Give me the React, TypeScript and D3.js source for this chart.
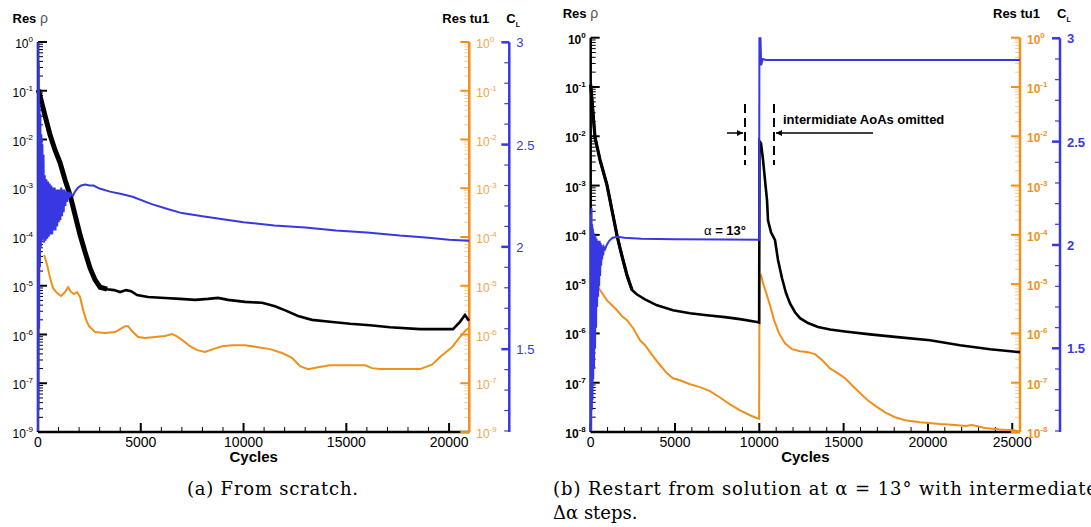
import React from 'react';
import * as d3 from 'd3';

const FONT = "'Liberation Sans', Arial, Helvetica, sans-serif";
const SERIF = "'DejaVu Serif', 'Liberation Serif', serif";
const BLUE = '#3838e2';
const ORANGE = '#ef901c';
const CL_MIN = 1.095;

// ---- Panel (a): from scratch. [cycles, log10(residual)] and [cycles, CL]
const aRho: [number, number][] = [
  [0, -0.98], [53, -1.03], [297, -1.44], [589, -1.91], [832, -2.22], [1075, -2.48], [1318, -2.83],
  [1561, -3.14], [1805, -3.55], [2048, -3.96], [2291, -4.31], [2534, -4.64], [2777, -4.88],
  [3021, -5.03], [3361, -5.07], [3701, -5.09], [3993, -5.13], [4285, -5.09], [4528, -5.11],
  [4820, -5.19], [5355, -5.23], [6182, -5.25], [6911, -5.27], [7641, -5.29], [8273, -5.27],
  [8759, -5.25], [9246, -5.29], [10073, -5.33], [10900, -5.35], [11532, -5.42], [12116, -5.52],
  [12651, -5.62], [13332, -5.70], [14207, -5.74], [15180, -5.78], [16153, -5.81], [17126, -5.85],
  [18584, -5.89], [20190, -5.89], [20530, -5.74], [20773, -5.60], [20968, -5.72],
];
const aTu1: [number, number][] = [
  [297, -4.37], [443, -4.57], [589, -4.84], [735, -5.05], [929, -5.15], [1124, -5.21], [1318, -5.13],
  [1464, -5.03], [1610, -5.13], [1756, -5.17], [1902, -5.13], [2048, -5.23], [2194, -5.50],
  [2340, -5.70], [2485, -5.83], [2777, -5.95], [3264, -5.97], [3750, -5.95], [3993, -5.89],
  [4236, -5.83], [4382, -5.83], [4577, -5.93], [4869, -6.05], [5209, -6.07], [5695, -6.05],
  [6182, -6.03], [6522, -5.99], [6717, -6.03], [7009, -6.11], [7398, -6.24], [7738, -6.32],
  [8127, -6.36], [8516, -6.30], [8954, -6.24], [9440, -6.22], [10073, -6.22], [10705, -6.26],
  [11289, -6.30], [11872, -6.38], [12359, -6.48], [12748, -6.65], [13137, -6.71], [13623, -6.67],
  [14207, -6.63], [15180, -6.63], [15909, -6.63], [16250, -6.69], [16639, -6.71], [17612, -6.71],
  [18584, -6.71], [19168, -6.62], [19557, -6.46], [20141, -6.26], [20530, -6.05], [20822, -5.91],
  [20968, -5.87],
];
const aCL: [number, number][] = [
  [0, 1.1], [10, 3.0], [25, 1.2], [40, 2.9], [55, 1.6], [75, 2.7], [95, 1.9], [115, 2.65], [140, 2.0],
  [165, 2.55], [190, 2.03], [215, 2.5], [240, 2.05], [270, 2.45], [300, 2.02], [330, 2.35], [370, 2.03],
  [410, 2.33], [450, 2.04], [490, 2.32], [530, 2.05], [570, 2.31], [610, 2.06], [650, 2.3], [690, 2.06],
  [730, 2.29], [770, 2.08], [810, 2.29], [850, 2.08], [890, 2.28], [930, 2.1], [970, 2.28], [1010, 2.12],
  [1050, 2.28], [1090, 2.13], [1130, 2.29], [1170, 2.15], [1210, 2.28], [1250, 2.17], [1290, 2.28],
  [1330, 2.2], [1370, 2.27], [1420, 2.22], [1480, 2.27], [1540, 2.24], [1600, 2.26], [1700, 2.25],
  [1800, 2.27], [1950, 2.29], [2100, 2.3], [2300, 2.305], [2500, 2.3], [2700, 2.3], [3000, 2.285],
  [3500, 2.27], [4000, 2.26], [4600, 2.245], [5500, 2.21], [6300, 2.185], [7000, 2.165], [8000, 2.15],
  [9000, 2.135], [10000, 2.12], [11500, 2.105], [13000, 2.095], [14500, 2.08], [16000, 2.07],
  [17600, 2.055], [19000, 2.045], [20000, 2.035], [20983, 2.03],
];

// ---- Panel (b): restart from alpha = 13 deg
const bRho: [number, number][] = [
  [0, -0.95], [255, -2.02], [552, -2.48], [967, -2.99], [1263, -3.5], [1560, -4.01], [1738, -4.27],
  [1916, -4.51], [2153, -4.82], [2450, -5.12], [2746, -5.21], [3221, -5.31], [3932, -5.43],
  [4881, -5.53], [5889, -5.59], [6898, -5.63], [7965, -5.67], [8855, -5.71], [9863, -5.77],
  [9990, -5.78], [10010, -2.1], [10101, -2.14], [10220, -2.48], [10338, -2.89], [10457, -3.3],
  [10517, -3.71], [10694, -3.95], [10931, -4.11], [11109, -4.51], [11346, -4.88], [11584, -5.18],
  [11821, -5.39], [12117, -5.57], [12414, -5.69], [12888, -5.79], [13481, -5.87], [14193, -5.92],
  [15083, -5.96], [16565, -6.02], [18345, -6.08], [20124, -6.14], [21903, -6.24], [23683, -6.32],
  [25460, -6.38],
];
const bTu1: [number, number][] = [
  [374, -5.02], [552, -5.12], [967, -5.33], [1263, -5.43], [1560, -5.53], [1856, -5.65], [2153, -5.73],
  [2509, -5.89], [2924, -6.14], [3221, -6.24], [3517, -6.38], [3991, -6.59], [4525, -6.81],
  [4881, -6.91], [5296, -6.95], [5889, -7.03], [6483, -7.09], [7076, -7.17], [7669, -7.3],
  [8262, -7.44], [8855, -7.56], [9448, -7.66], [9863, -7.72], [9990, -7.73], [10010, -4.85],
  [10101, -4.82], [10220, -4.98], [10398, -5.17], [10635, -5.43], [10872, -5.73], [11168, -6.0],
  [11524, -6.2], [11940, -6.32], [12414, -6.36], [12888, -6.38], [13303, -6.42], [13718, -6.54],
  [14193, -6.71], [14667, -6.81], [15083, -6.91], [15498, -7.05], [15972, -7.21], [16447, -7.36],
  [16921, -7.48], [17455, -7.6], [18048, -7.7], [18641, -7.76], [19531, -7.8], [20717, -7.84],
  [21607, -7.86], [22200, -7.88], [22615, -7.86], [23386, -7.92], [24276, -7.95], [25166, -7.97],
  [25460, -7.99],
];
const bCL: [number, number][] = [
  [0, 1.1], [15, 2.15], [30, 1.1], [50, 2.18], [70, 1.2], [90, 2.1], [110, 1.25], [130, 2.08],
  [150, 1.35], [170, 2.06], [200, 1.4], [230, 2.05], [260, 1.5], [290, 2.04], [320, 1.6], [350, 2.03],
  [380, 1.7], [410, 2.02], [440, 1.75], [470, 2.02], [500, 1.8], [530, 2.02], [560, 1.85], [590, 2.01],
  [620, 1.9], [650, 2.0], [680, 1.93], [710, 1.99], [740, 1.95], [780, 1.99], [850, 1.98], [950, 2.0],
  [1100, 2.02], [1300, 2.035], [1600, 2.04], [2000, 2.035], [3000, 2.03], [5000, 2.028],
  [8000, 2.026], [9990, 2.025], [10005, 3.0], [10070, 3.0], [10110, 2.87], [10200, 2.9],
  [10400, 2.895], [15000, 2.895], [20000, 2.895], [25460, 2.895],
];

// ---- Ticks and labels
const aXTicks = [0, 5000, 10000, 15000, 20000];
const bXTicks = [0, 5000, 10000, 15000, 20000, 25000];
const aExpLabels = ['0', '-1', '-2', '-3', '-4', '-5', '-6', '-7', '-9'];
const bExpLabels = ['0', '-1', '-2', '-3', '-4', '-5', '-6', '-7', '-8'];
const clTicks = [3, 2.5, 2, 1.5];
const clTickLabels = ['3', '2.5', '2', '1.5'];

type Geo = { x0: number; x1: number; xc: number; yTop: number; yBot: number; clTop: number; titleY: number; titleX: number; xMax: number };

function Panel({ g, xTicks, rho, rhoThickEnd, thickW, tu1, cl, expLabels, boldY }: {
  g: Geo; xTicks: number[]; rho: [number, number][]; rhoThickEnd: number; thickW: number;
  tu1: [number, number][]; cl: [number, number][]; expLabels: string[]; boldY: boolean;
}) {
  const x = d3.scaleLinear().domain([0, g.xMax]).range([g.x0, g.x1]);
  const y = d3.scaleLog().domain([1e-8, 1]).range([g.yBot, g.yTop]);
  const c = d3.scaleLinear().domain([CL_MIN, 3]).range([g.yBot, g.clTop]);
  const logLine = d3.line<[number, number]>().x(d => x(d[0])).y(d => y(Math.pow(10, d[1])));
  const clLine = d3.line<[number, number]>().x(d => x(d[0])).y(d => c(d[1]));

  const decades = d3.range(0, 9).map(k => Math.pow(10, -k));
  const minorLog: number[] = [];
  for (let k = -8; k < 0; k++) for (let m = 2; m <= 9; m++) minorLog.push(m * Math.pow(10, k));
  const minorX = d3.range(0, g.xMax, 1000).filter(v => v % 5000 !== 0);
  const minorCL = d3.range(11, 31).map(v => v / 10).filter(v => !clTicks.includes(v) && v >= CL_MIN);
  const fw = boldY ? 'bold' : 'normal';
  const orangeLab = boldY ? '#ef921e' : '#f2a448';

  return (
    <g>
      {/* left black axis */}
      <line x1={g.x0} x2={g.x0} y1={g.yTop} y2={g.yBot} stroke="#000" strokeWidth={2.5} />
      {minorLog.map((v, i) => (
        <line key={'lm' + i} x1={g.x0} x2={g.x0 + 5} y1={y(v)} y2={y(v)} stroke="#000" strokeWidth={1} />
      ))}
      {decades.map((v, i) => (
        <g key={'ld' + i}>
          <line x1={g.x0} x2={g.x0 + 9} y1={y(v)} y2={y(v)} stroke="#000" strokeWidth={2} />
          <text x={g.x0 - 5} y={y(v) + 6} textAnchor="end" fontFamily={FONT} fontSize={12} fontWeight={fw} fill="#000">
            10<tspan dy={-6} fontSize={8}>{expLabels[i]}</tspan>
          </text>
        </g>
      ))}

      {/* x axis */}
      <line x1={g.x0} x2={g.x1} y1={g.yBot} y2={g.yBot} stroke="#000" strokeWidth={2.5} />
      {minorX.map((v, i) => (
        <line key={'xm' + i} x1={x(v)} x2={x(v)} y1={g.yBot} y2={g.yBot - 5} stroke="#000" strokeWidth={1} />
      ))}
      {xTicks.map((v, i) => (
        <g key={'xt' + i}>
          <line x1={x(v)} x2={x(v)} y1={g.yBot} y2={g.yBot - 9} stroke="#000" strokeWidth={2} />
          <text x={x(v)} y={447} textAnchor="middle" fontFamily={FONT} fontSize={14} fill="#000">{v}</text>
        </g>
      ))}
      <text x={(g.x0 + g.x1) / 2} y={462} textAnchor="middle" fontFamily={FONT} fontSize={15} fontWeight="bold">Cycles</text>

      {/* orange axis */}
      {minorLog.map((v, i) => (
        <line key={'om' + i} x1={g.x1} x2={g.x1 - 5} y1={y(v)} y2={y(v)} stroke="#f3cc98" strokeWidth={1} />
      ))}
      {decades.map((v, i) => (
        <g key={'od' + i}>
          <line x1={g.x1} x2={g.x1 - 9} y1={y(v)} y2={y(v)} stroke={ORANGE} strokeWidth={2} />
          <text x={g.x1 + 7} y={y(v) + 6} fontFamily={FONT} fontSize={12} fontWeight={fw} fill={orangeLab}>
            10<tspan dy={-6} fontSize={8}>{expLabels[i]}</tspan>
          </text>
        </g>
      ))}
      <line x1={g.x1} x2={g.x1} y1={g.yTop} y2={g.yBot} stroke={ORANGE} strokeWidth={2.5} />

      {/* blue CL axis */}
      <line x1={g.xc} x2={g.xc} y1={g.clTop} y2={g.yBot} stroke={BLUE} strokeWidth={2.5} />
      {minorCL.map((v, i) => (
        <line key={'cm' + i} x1={g.xc} x2={g.xc - 5} y1={c(v)} y2={c(v)} stroke={BLUE} strokeWidth={1.2} />
      ))}
      {clTicks.map((v, i) => (
        <g key={'ct' + i}>
          <line x1={g.xc} x2={g.xc - 8} y1={c(v)} y2={c(v)} stroke={BLUE} strokeWidth={2.5} />
          <text x={g.xc + 7} y={c(v) + 5} fontFamily={FONT} fontSize={13} fontWeight={fw} fill={BLUE}>{clTickLabels[i]}</text>
        </g>
      ))}

      {/* data lines, drawn over the axes */}
      <path d={logLine(tu1) || ''} fill="none" stroke={ORANGE} strokeWidth={2} />
      <path d={logLine(rho) || ''} fill="none" stroke="#000" strokeWidth={2.6} />
      <path d={logLine(rho.filter(d => d[0] <= rhoThickEnd)) || ''} fill="none" stroke="#000" strokeWidth={thickW} />
      <path d={clLine(cl) || ''} fill="none" stroke={BLUE} strokeWidth={2} />

      {/* titles */}
      <text x={g.titleX} y={g.titleY} fontFamily={FONT} fontSize={13} fontWeight="bold" fill="#000">
        Res <tspan fontWeight="normal" fill="#555" fontSize={14}>ρ</tspan>
      </text>
      <text x={g.x1 - 27} y={g.titleY} fontFamily={FONT} fontSize={13} fontWeight="bold" fill="#000">Res tu1</text>
      <text x={g.xc - 3} y={g.titleY} fontFamily={FONT} fontSize={13} fontWeight="bold" fill="#000">
        C<tspan dy={4} fontSize={7}>L</tspan>
      </text>
    </g>
  );
}

const geoA: Geo = { x0: 38, x1: 469.3, xc: 509.3, yTop: 42, yBot: 432, clTop: 42.3, titleY: 22.5, titleX: 12.5, xMax: 20983 };
const geoB: Geo = { x0: 590.7, x1: 1020, xc: 1060, yTop: 37.7, yBot: 432, clTop: 38.3, titleY: 18, titleX: 562.7, xMax: 25460 };

// annotation positions in cycles (panel b)
const dashLeftCycles = 9150;
const dashRightCycles = 10870;

export default function App() {
  const xb = d3.scaleLinear().domain([0, geoB.xMax]).range([geoB.x0, geoB.x1]);
  const dl = xb(dashLeftCycles);
  const dr = xb(dashRightCycles);
  return (
    <svg width={1091} height={527} style={{ position: 'absolute', left: 0, top: 0, background: '#fff' }}>
      <defs>
        <marker id="ah" viewBox="0 0 10 10" refX="10" refY="5" markerWidth="7" markerHeight="6" orient="auto-start-reverse" markerUnits="userSpaceOnUse">
          <path d="M0,0 L10,5 L0,10 z" fill="#000" />
        </marker>
      </defs>
      <rect x={0} y={0} width={1091} height={527} fill="#fff" />
      <Panel g={geoA} xTicks={aXTicks} rho={aRho} rhoThickEnd={3400} thickW={5} tu1={aTu1} cl={aCL} expLabels={aExpLabels} boldY={false} />
      <Panel g={geoB} xTicks={bXTicks} rho={bRho} rhoThickEnd={2500} thickW={3.2} tu1={bTu1} cl={bCL} expLabels={bExpLabels} boldY={true} />

      {/* annotations panel b */}
      <line x1={dl} x2={dl} y1={104} y2={165} stroke="#000" strokeWidth={2} strokeDasharray="9,5" />
      <line x1={dr} x2={dr} y1={104} y2={165} stroke="#000" strokeWidth={2} strokeDasharray="9,5" />
      <line x1={dl - 18} x2={dl - 2} y1={133} y2={133} stroke="#000" strokeWidth={1.5} markerEnd="url(#ah)" />
      <line x1={873} x2={dr + 2} y1={133} y2={133} stroke="#000" strokeWidth={1.5} markerEnd="url(#ah)" />
      <text x={783} y={124} fontFamily={FONT} fontSize={13} fontWeight="bold">intermidiate AoAs omitted</text>
      <text x={746} y={235} textAnchor="end" fontFamily={FONT} fontSize={13} fontWeight="bold">
        <tspan fontWeight="normal">α</tspan> = 13°
      </text>

      {/* captions */}
      <text x={187} y={495} fontFamily={SERIF} fontSize={18} textLength={171} lengthAdjust="spacing">(a) From scratch.</text>
      <text x={553} y={495} fontFamily={SERIF} fontSize={18} textLength={544} lengthAdjust="spacing">(b) Restart from solution at α = 13° with intermediate</text>
      <text x={553} y={519} fontFamily={SERIF} fontSize={18}>Δα steps.</text>
    </svg>
  );
}
